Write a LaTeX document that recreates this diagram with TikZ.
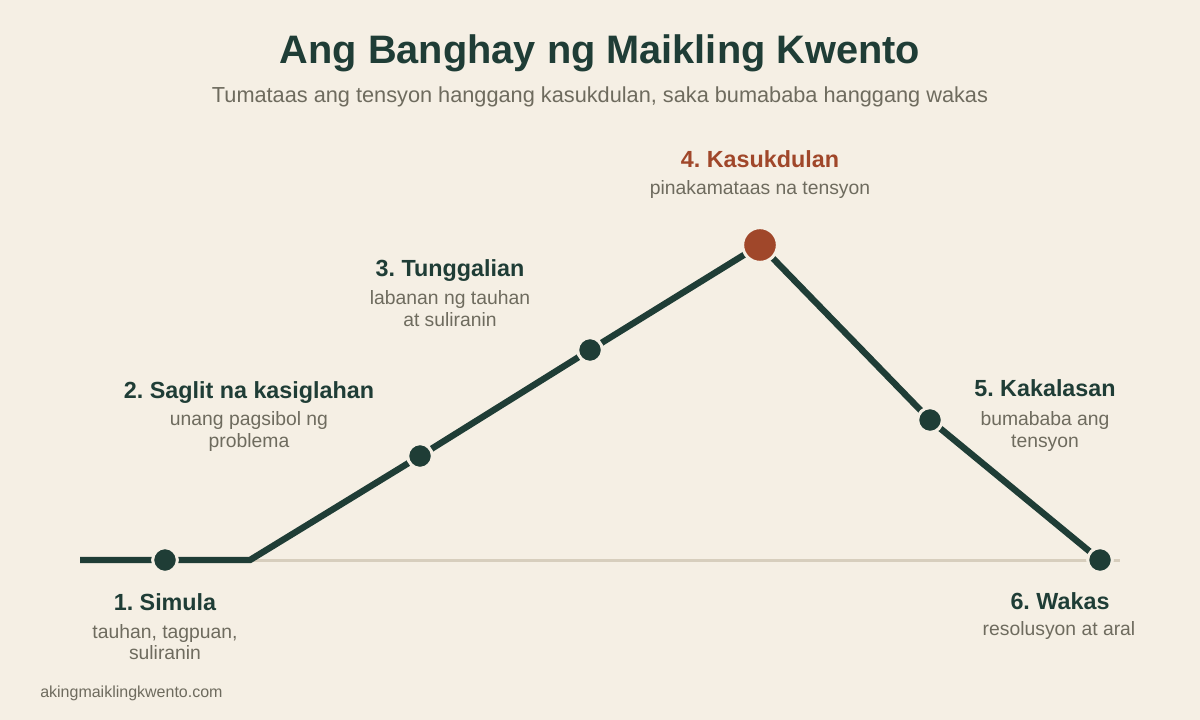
\documentclass[tikz,border=0pt]{standalone}
\usepackage{fontspec}
\setmainfont{Liberation Sans}
\frenchspacing
\definecolor{bg}{HTML}{F5EFE4}
\definecolor{dark}{HTML}{1F3D36}
\definecolor{accent}{HTML}{A0472A}
\definecolor{graytext}{HTML}{6E6B5E}
\definecolor{baseln}{HTML}{D7CEBD}
\tikzset{
  txt/.style={inner sep=0pt, anchor=base},
  title/.style={txt, text=dark, font=\fontsize{29.8pt}{36pt}\selectfont\bfseries},
  subtitle/.style={txt, text=graytext, font=\fontsize{16.3pt}{20pt}\selectfont},
  lab/.style={txt, text=dark, font=\fontsize{17.5pt}{21pt}\selectfont\bfseries},
  sublab/.style={txt, text=graytext, font=\fontsize{14.5pt}{17pt}\selectfont},
  foot/.style={inner sep=0pt, anchor=base west, text=graytext, font=\fontsize{12pt}{14pt}\selectfont},
  plotline/.style={draw=dark, line width=4.8pt, line join=miter},
  dot/.style={circle, fill=dark, draw=bg, line width=2.25pt, minimum size=18.5pt, inner sep=0pt},
  peak/.style={circle, fill=accent, draw=bg, line width=2.25pt, minimum size=26pt, inner sep=0pt},
}
\begin{document}
\begin{tikzpicture}[x=0.75pt, y=-0.75pt]
\fill[bg] (0,0) rectangle (1200,720);
\useasboundingbox (0,0) rectangle (1200,720);

% title
\node[title] (t) at (600,64) {Ang Banghay ng Maikling Kwento};
\node[subtitle] (st) at (600,103) {Tumataas ang tensyon hanggang kasukdulan, saka bumababa hanggang wakas};

% baseline
\coordinate (b0) at (250,560);
\coordinate (b1) at (1120,560);
\draw[baseln, line width=2.25pt] (b0) -- (b1);

% plot coordinates
\coordinate (s) at (80,560);
\coordinate (p1) at (165,560);
\coordinate (c) at (250,560);
\coordinate (p2) at (420,456);
\coordinate (p3) at (590,350);
\coordinate (p4) at (760,245);
\coordinate (p5) at (930,420);
\coordinate (p6) at (1100,560);
\draw[plotline] (s) -- (p1) -- (c) -- (p2) -- (p3) -- (p4) -- (p5) -- (p6);

\node[dot] (d1) at (p1) {};
\node[dot] (d2) at (p2) {};
\node[dot] (d3) at (p3) {};
\node[peak] (d4) at (p4) {};
\node[dot] (d5) at (p5) {};
\node[dot] (d6) at (p6) {};

% labels
\node[lab] (l1) at (165,610) {1. Simula};
\node[sublab] (l1a) at (165,638) {tauhan, tagpuan,};
\node[sublab] (l1b) at (165,659) {suliranin};

\node[lab] (l2) at (249,398) {2. Saglit na kasiglahan};
\node[sublab] (l2a) at (249,425) {unang pagsibol ng};
\node[sublab] (l2b) at (249,447) {problema};

\node[lab] (l3) at (450,277) {3. Tunggalian};
\node[sublab] (l3a) at (450,305) {labanan ng tauhan};
\node[sublab] (l3b) at (450,326.5) {at suliranin};

\node[lab, text=accent] (l4) at (760,168) {4. Kasukdulan};
\node[sublab] (l4a) at (760,195) {pinakamataas na tensyon};

\node[lab] (l5) at (1045,397) {5. Kakalasan};
\node[sublab] (l5a) at (1045,425) {bumababa ang};
\node[sublab] (l5b) at (1045,447) {tensyon};

\node[lab] (l6) at (1060,609) {6. Wakas};
\node[sublab] (l6a) at (1059,635) {resolusyon at aral};

\node[foot] (f) at (40,697) {akingmaiklingkwento.com};
\end{tikzpicture}
\end{document}
